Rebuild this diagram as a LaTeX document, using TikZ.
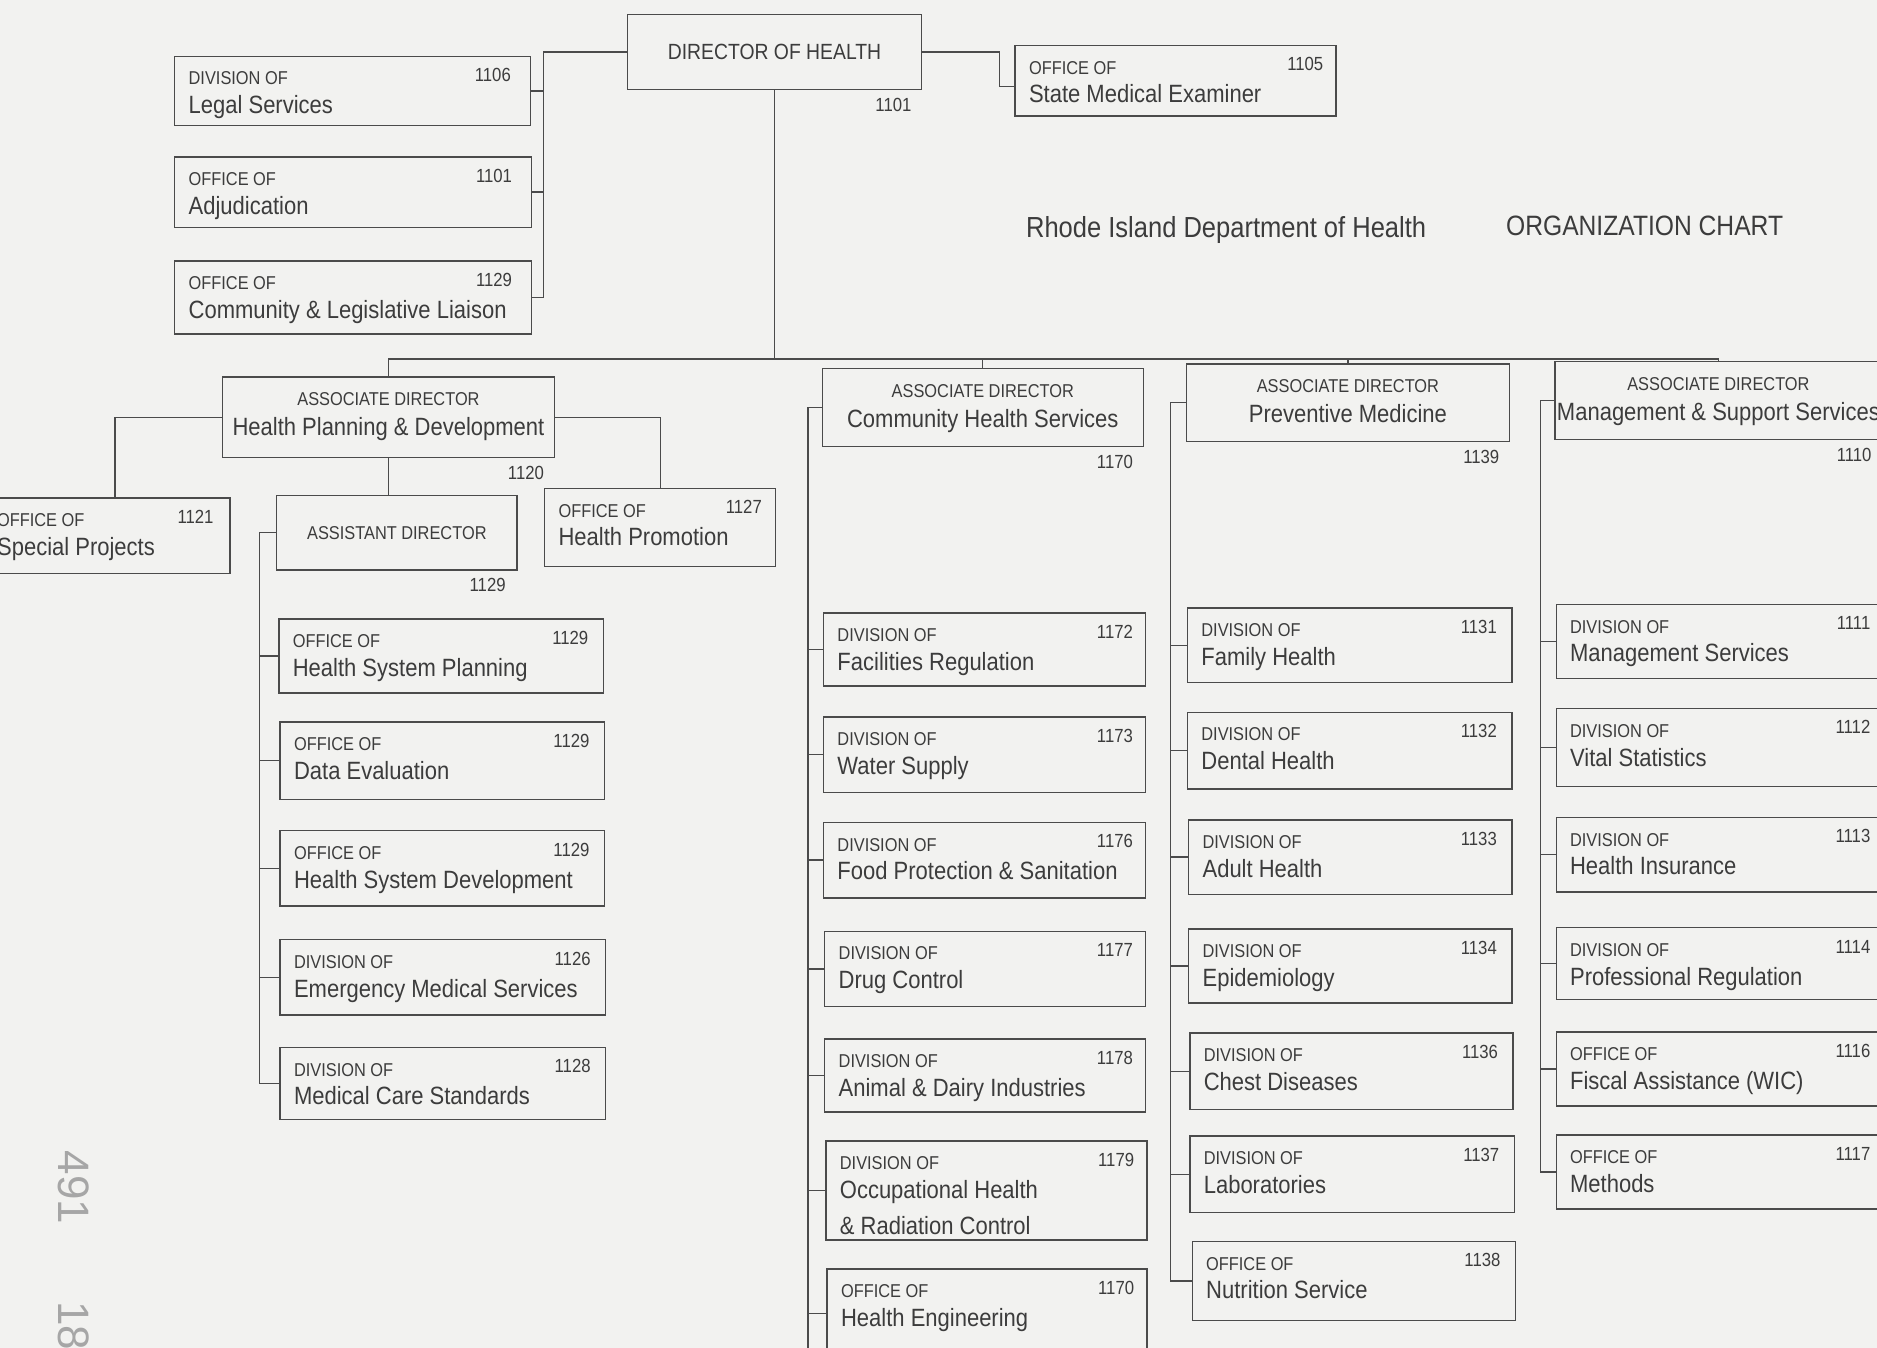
\documentclass[tikz,border=0pt]{standalone}
\usepackage{fontspec}
\setmainfont{Liberation Sans}[FakeStretch=0.88]
\newfontfamily\handfont{Liberation Sans}
\usetikzlibrary{fit}
\definecolor{bg}{RGB}{242,242,240}
\definecolor{ink}{RGB}{75,75,75}
\definecolor{txt}{RGB}{60,60,60}
\tikzset{
  orgbox/.style={draw=ink, line width=1.4pt, inner sep=0pt},
  conn/.style={draw=ink, line width=1.3pt},
  lbl/.style={inner sep=0pt, text=txt, text depth=0pt},
  bigtxt/.style={lbl, text height=17.9pt, font=\fontsize{25}{30}\selectfont},
  smalltxt/.style={lbl, text height=13.3pt, font=\fontsize{18.6}{22}\selectfont},
  numtxt/.style={lbl, text height=13.6pt, font=\fontsize{19}{22}\selectfont},
  dirtxt/.style={lbl, text height=15.8pt, font=\fontsize{22}{26}\selectfont},
  titletxt/.style={lbl, text height=20.8pt, font=\fontsize{29}{34}\selectfont},
  handtxt/.style={inner sep=0pt, text=black!35, text height=31pt, text depth=0pt, font=\handfont\fontsize{44}{50}\selectfont},
}
\newcommand\bxoff{14.4pt}
\newcommand\bnoff{15.6pt}
\newcommand\orgunit[8]{%
  \node[orgbox, fit={(#2,#3)(#4,#5)}] (#1) {};
  \node[smalltxt, anchor=west] (#1-s) at ([xshift=\bxoff, yshift=-22.7pt]#1.north west) {#6};
  \node[numtxt, anchor=east] (#1-n) at ([xshift=-\bnoff, yshift=-19.2pt]#1.north east) {#7};
  \node[bigtxt, anchor=west] (#1-b) at ([xshift=\bxoff, yshift=-49.1pt]#1.north west) {#8};}
\newcommand\assocbox[7]{%
  \node[orgbox, fit={(#2,#3)(#4,#5)}] (#1) {};
  \node[smalltxt] (#1-s) at ([yshift=-22.7pt]#1.north) {ASSOCIATE DIRECTOR};
  \node[bigtxt] (#1-b) at ([yshift=-50.3pt]#1.north) {#6};
  \node[numtxt, anchor=east] (#1-n) at ([xshift=-10.8pt, yshift=-14.4pt]#1.south east) {#7};}
\begin{document}
\begin{tikzpicture}[x=1.197pt, y=-1.197pt]
\useasboundingbox (0,0) rectangle (1568,1126);
\fill[bg] (0,0) rectangle (1568,1126);
\begin{scope}
\clip (0,0) rectangle (1568,1126);

% top level
\node[orgbox, fit={(524,12)(770,75)}] (dir) {};
\node[dirtxt] (dir-t) at (dir.center) {DIRECTOR OF HEALTH};
\node[numtxt, anchor=east] (dir-n) at ([xshift=-10.8pt, yshift=-14.4pt]dir.south east) {1101};

\renewcommand\bnoff{13.2pt}
\orgunit{sme}{848}{38}{1116}{97}{OFFICE OF}{1105}{State Medical Examiner}

\renewcommand\bnoff{20pt}
\orgunit{legal}{146}{47}{443}{105}{DIVISION OF}{1106}{Legal Services}
\orgunit{adj}{146}{131}{444}{190}{OFFICE OF}{1101}{Adjudication}
\orgunit{comm}{146}{218}{444}{279}{OFFICE OF}{1129}{Community \& Legislative Liaison}

\node[titletxt, anchor=west] (title) at (857,190) {Rhode Island Department of Health};
\node[titletxt, anchor=west, font=\fontsize{28}{33}\selectfont] (chart) at (1258,188) {ORGANIZATION CHART};

% Health Planning & Development
\assocbox{hpd}{186}{315}{463}{382}{Health Planning \& Development}{1120}
\renewcommand\bnoff{16.8pt}
\orgunit{sp}{-14}{416}{192}{479}{OFFICE OF}{1121}{Special Projects}
\renewcommand\bnoff{14.4pt}
\orgunit{hp}{455}{408}{648}{473}{OFFICE OF}{1127}{Health Promotion}
\node[orgbox, fit={(231,414)(432,476)}] (ad) {};
\node[smalltxt] (ad-t) at (ad.center) {ASSISTANT DIRECTOR};
\node[numtxt, anchor=east] (ad-n) at ([xshift=-12pt, yshift=-14.4pt]ad.south east) {1129};

\renewcommand\bnoff{15.6pt}
\orgunit{hsp}{233}{517}{504}{579}{OFFICE OF}{1129}{Health System Planning}
\orgunit{de}{234}{603}{505}{668}{OFFICE OF}{1129}{Data Evaluation}
\orgunit{hsd}{234}{694}{505}{757}{OFFICE OF}{1129}{Health System Development}
\orgunit{ems}{234}{785}{506}{848}{DIVISION OF}{1126}{Emergency Medical Services}
\orgunit{mcs}{234}{875}{506}{935}{DIVISION OF}{1128}{Medical Care Standards}

% Community Health Services
\assocbox{chs}{687}{308}{955}{373}{Community Health Services}{1170}
\renewcommand\bnoff{13.2pt}
\orgunit{fr}{688}{512}{957}{573}{DIVISION OF}{1172}{Facilities Regulation}
\orgunit{ws}{688}{599}{957}{662}{DIVISION OF}{1173}{Water Supply}
\orgunit{fp}{688}{687}{957}{750}{DIVISION OF}{1176}{Food Protection \& Sanitation}
\orgunit{dc}{689}{778}{957}{841}{DIVISION OF}{1177}{Drug Control}
\orgunit{adi}{689}{868}{957}{929}{DIVISION OF}{1178}{Animal \& Dairy Industries}
\orgunit{oh}{690}{953}{958}{1036}{DIVISION OF}{1179}{Occupational Health}
\node[bigtxt, anchor=west] (oh-c) at ([yshift=-35.9pt]oh-b.west) {\& Radiation Control};
\orgunit{he}{691}{1060}{958}{1134}{OFFICE OF}{1170}{Health Engineering}

% Preventive Medicine
\assocbox{pm}{991}{304}{1261}{369}{Preventive Medicine}{1139}
\renewcommand\bnoff{15.6pt}
\orgunit{fh}{992}{508}{1263}{570}{DIVISION OF}{1131}{Family Health}
\orgunit{dh}{992}{595}{1263}{659}{DIVISION OF}{1132}{Dental Health}
\orgunit{ah}{993}{685}{1263}{747}{DIVISION OF}{1133}{Adult Health}
\orgunit{ep}{993}{776}{1263}{838}{DIVISION OF}{1134}{Epidemiology}
\orgunit{cd}{994}{863}{1264}{927}{DIVISION OF}{1136}{Chest Diseases}
\orgunit{lab}{994}{949}{1265}{1013}{DIVISION OF}{1137}{Laboratories}
\orgunit{nut}{996}{1037}{1266}{1103}{OFFICE OF}{1138}{Nutrition Service}

% Management & Support Services
\assocbox{mss}{1299}{302}{1572}{367}{Management \& Support Services}{1110}
\orgunit{mgs}{1300}{505}{1575}{567}{DIVISION OF}{1111}{Management Services}
\orgunit{vs}{1300}{592}{1575}{657}{DIVISION OF}{1112}{Vital Statistics}
\orgunit{hi}{1300}{683}{1575}{745}{DIVISION OF}{1113}{Health Insurance}
\orgunit{pr}{1300}{775}{1575}{835}{DIVISION OF}{1114}{Professional Regulation}
\orgunit{fa}{1300}{862}{1575}{924}{OFFICE OF}{1116}{Fiscal Assistance (WIC)}
\orgunit{meth}{1300}{948}{1575}{1010}{OFFICE OF}{1117}{Methods}

% connectors
\coordinate (lv) at (454,44);
\draw[conn] (dir.west) -- (dir.west -| lv) |- (comm.east);
\draw[conn] (legal.east) -- (legal.east -| lv);
\draw[conn] (adj.east) -- (adj.east -| lv);

\coordinate (smev) at (835,72);
\draw[conn] (dir.east) -| (smev) -- (smev -| sme.west);

\coordinate (bus) at (0,300);
\draw[conn] (dir.south) -- (dir.south |- bus);
\draw[conn] (hpd.north) -- (hpd.north |- bus) -- (mss.north |- bus) -- (mss.north);
\draw[conn] (chs.north) -- (chs.north |- bus);
\draw[conn] (pm.north) -- (pm.north |- bus);

\coordinate (spv) at (96,0);
\draw[conn] (hpd.west) -| (spv |- sp.north);
\draw[conn] (hpd.east) -| (hp.north);
\draw[conn] (hpd.south) -- (hpd.south |- ad.north);

\coordinate (adv) at (217,0);
\draw[conn] (ad.west) -- (ad.west -| adv) |- (mcs.west);
\foreach \b in {hsp,de,hsd,ems} \draw[conn] (\b.west) -- (\b.west -| adv);

\coordinate (chv) at (675,1126);
\draw[conn] (chs.west) -- (chs.west -| chv) -- (chv);
\foreach \b in {fr,ws,fp,dc,adi,oh,he} \draw[conn] (\b.west) -- (\b.west -| chv);

\coordinate (pmv) at (978,0);
\draw[conn] (pm.west) -- (pm.west -| pmv) |- (nut.west);
\foreach \b in {fh,dh,ah,ep,cd,lab} \draw[conn] (\b.west) -- (\b.west -| pmv);

\coordinate (mssv) at (1287,0);
\draw[conn] (mss.west) -- (mss.west -| mssv) |- (meth.west);
\foreach \b in {mgs,vs,hi,pr,fa} \draw[conn] (\b.west) -- (\b.west -| mssv);

% handwritten marks
\node[handtxt, rotate=-90, anchor=west] (hw1) at (62,961) {491};
\node[handtxt, rotate=-90, anchor=west] (hw2) at (62,1087) {18};
\end{scope}
\end{tikzpicture}
\end{document}
